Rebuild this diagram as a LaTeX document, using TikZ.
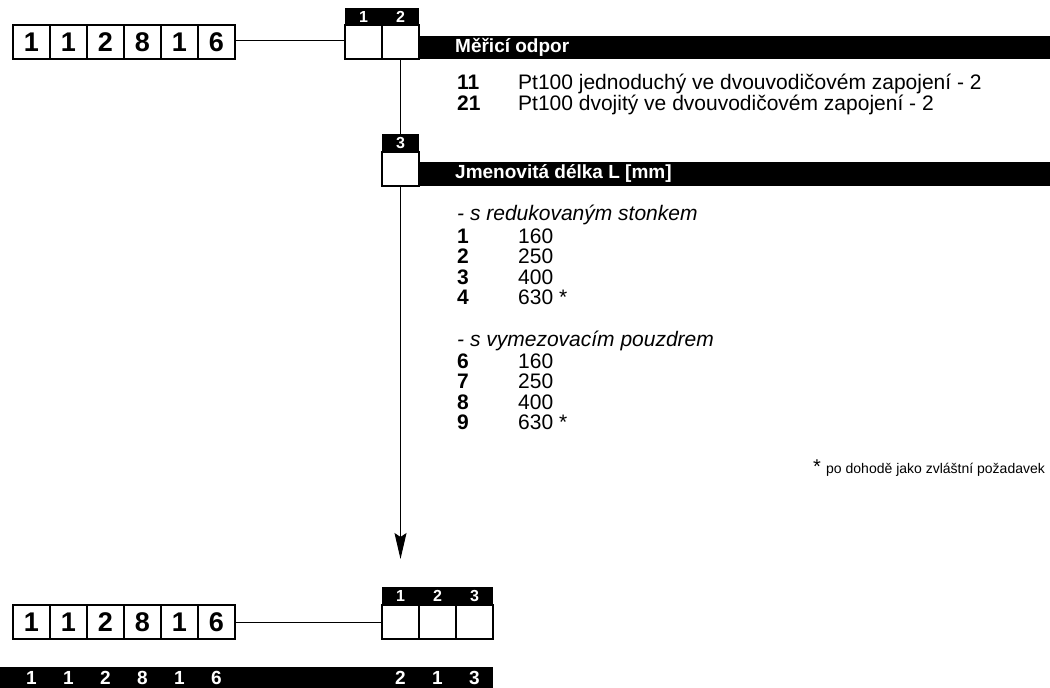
\documentclass[tikz,border=0pt]{standalone}
\usepackage{fontspec}
\setmainfont{Liberation Sans}
\usetikzlibrary{arrows.meta}
\tikzset{
 dbox/.style={draw, line width=1.1pt, minimum width=37pt, minimum height=34pt, inner sep=0pt, font=\fontsize{27}{27}\selectfont\bfseries},
 hdr/.style={fill=black, text=white, minimum width=37pt, minimum height=18pt, inner sep=0pt, font=\fontsize{16}{16}\selectfont\bfseries},
 blackbar/.style={fill=black, anchor=north west, inner sep=0pt},
 barlbl/.style={anchor=west, text=white, inner sep=0pt, font=\fontsize{19}{19}\selectfont\bfseries},
 keyt/.style={anchor=base west, inner sep=0pt, font=\fontsize{21}{21}\selectfont\bfseries},
 valt/.style={anchor=base west, inner sep=0pt, font=\fontsize{21}{21}\selectfont},
 subt/.style={anchor=base west, inner sep=0pt, font=\fontsize{21}{21}\selectfont\itshape},
 botd/.style={text=white, inner sep=0pt, font=\fontsize{19}{19}\selectfont\bfseries},
 conn/.style={line width=1pt},
}
\begin{document}
\begin{tikzpicture}[x=1pt,y=-1pt]
\useasboundingbox (0,0) rectangle (1050,688);
% top code boxes
\foreach \d [count=\i] in {1,1,2,8,1,6}{
  \node[dbox] (a\i) at ({31.5+37*(\i-1)},42) {\d};
}
\node[hdr] (th1) at (363.5,16.5) {1};
\node[hdr] (th2) at (400.5,16.5) {2};
\node[dbox] (t1) at (363.5,42) {};
\node[dbox] (t2) at (400.5,42) {};
\draw[conn] ([yshift=2pt]a6.east) -- ([yshift=2pt]t1.west);
\node[blackbar, minimum width=631pt, minimum height=23.5pt] (bar1) at (419,35.5) {};
\node[barlbl] (bar1t) at (455,47.5) {Měřicí odpor};
\node[keyt] (k11) at (457,89) {11};
\node[valt] (v11) at (518,89) {Pt100 jednoduchý ve dvouvodičovém zapojení - 2};
\node[keyt] (k21) at (457,110) {21};
\node[valt] (v21) at (518,110) {Pt100 dvojitý ve dvouvodičovém zapojení - 2};
% position 3
\node[hdr] (h3) at (400.5,143) {3};
\node[dbox] (b3) at (400.5,169) {};
\draw[conn] (t2.south) -- (h3.north);
\node[blackbar, minimum width=631pt, minimum height=24pt] (bar2) at (419,162) {};
\node[barlbl] (bar2t) at (455,174) {Jmenovitá délka L [mm]};
\node[subt] (s1) at (457,220) {- s redukovaným stonkem};
\node[keyt] (k1) at (457,243) {1};   \node[valt] (v1) at (518,243) {160};
\node[keyt] (k2) at (457,263.5) {2}; \node[valt] (v2) at (518,263.5) {250};
\node[keyt] (k3) at (457,284) {3};   \node[valt] (v3) at (518,284) {400};
\node[keyt] (k4) at (457,304.5) {4}; \node[valt] (v4) at (518,304.5) {630 *};
\node[subt] (s2) at (457,346.5) {- s vymezovacím pouzdrem};
\node[keyt] (k6) at (457,368) {6};   \node[valt] (v6) at (518,368) {160};
\node[keyt] (k7) at (457,388.5) {7}; \node[valt] (v7) at (518,388.5) {250};
\node[keyt] (k8) at (457,409) {8};   \node[valt] (v8) at (518,409) {400};
\node[keyt] (k9) at (457,429.5) {9}; \node[valt] (v9) at (518,429.5) {630 *};
\node[anchor=base west, inner sep=0pt, font=\fontsize{20}{20}\selectfont] (fa) at (813,473) {*};
\node[anchor=base west, inner sep=0pt, font=\fontsize{14}{14}\selectfont] (fn) at (826,473) {po dohodě jako zvláštní požadavek};
\coordinate (tip) at (400.5,559);
\draw[conn, -{Stealth[length=26pt,width=12pt,inset=4pt]}] (b3.south) -- (tip);
% bottom result
\foreach \d [count=\i] in {1,1,2,8,1,6}{
  \node[dbox] (c\i) at ({31.5+37*(\i-1)},622) {\d};
}
\node[hdr] (rh1) at (400.5,596) {1};
\node[hdr] (rh2) at (437.5,596) {2};
\node[hdr] (rh3) at (474.5,596) {3};
\node[dbox] (r1) at (400.5,622) {};
\node[dbox] (r2) at (437.5,622) {};
\node[dbox] (r3) at (474.5,622) {};
\draw[conn] (c6.east) -- (r1.west);
\node[blackbar, minimum width=493pt, minimum height=21pt] (bar3) at (0,667) {};
\foreach \d [count=\i] in {1,1,2,8,1,6}{
  \node[botd] (e\i) at ({31.5+37*(\i-1)},677.5) {\d};
}
\node[botd] (f1) at (400.5,677.5) {2};
\node[botd] (f2) at (437.5,677.5) {1};
\node[botd] (f3) at (474.5,677.5) {3};
\end{tikzpicture}
\end{document}
